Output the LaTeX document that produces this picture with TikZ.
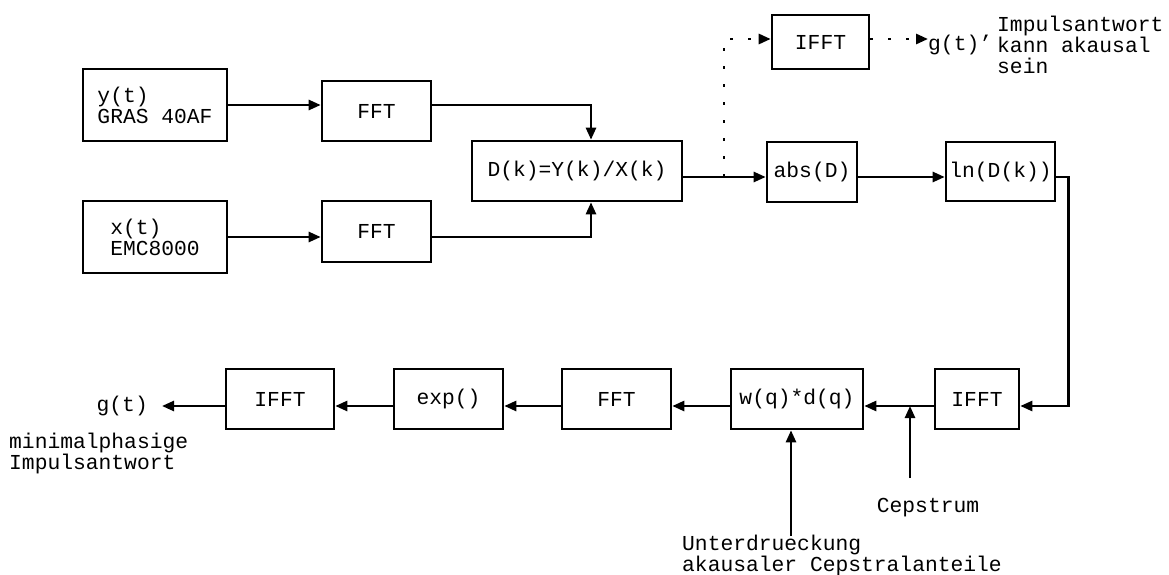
\documentclass[tikz,border=0pt]{standalone}
\usepackage{fontspec}
\setmonofont{Liberation Mono}
\usetikzlibrary{arrows.meta}
\begin{document}
\begin{tikzpicture}[x=1pt,y=-1pt,
  every node/.style={font=\ttfamily\fontsize{21.3}{21}\selectfont},
  blk/.style={draw, line width=2.6pt, inner sep=0pt, align=center},
  arr/.style={line width=2.5pt, -{Triangle[length=12pt,width=10pt]}},
  dots/.style={line width=2.7pt, dash pattern=on 3pt off 15pt, -{Triangle[length=12pt,width=10pt]}},
  lbl/.style={inner sep=0pt, align=left}]
\useasboundingbox (0,0) rectangle (1169,575);

% top part
\node[blk, minimum width=144pt, minimum height=72pt, align=left] (ybox) at (155,105) {y(t)\\GRAS 40AF};
\node[blk, minimum width=144pt, minimum height=72pt, align=left] (xbox) at (155,237) {x(t)\\EMC8000};
\node[blk, minimum width=109pt, minimum height=60pt] (fft1) at (376.5,111) {FFT};
\node[blk, minimum width=109pt, minimum height=61pt] (fft2) at (376.5,231.5) {FFT};
\node[blk, minimum width=210pt, minimum height=60pt] (D) at (577,171) {D(k)=Y(k)/X(k)};
\node[blk, minimum width=90pt, minimum height=60pt] (abs) at (812,172) {abs(D)};
\node[blk, minimum width=109pt, minimum height=59pt] (lnk) at (1000.5,171.5) {ln(D(k))};
\node[blk, minimum width=97pt, minimum height=54pt] (ifftA) at (820.5,42) {IFFT};

% bottom row
\node[blk, minimum width=84pt, minimum height=60pt] (ifftB) at (977,399) {IFFT};
\node[blk, minimum width=132pt, minimum height=60pt] (wq) at (797,399) {w(q)*d(q)};
\node[blk, minimum width=109pt, minimum height=60pt] (fftC) at (616.5,399) {FFT};
\node[blk, minimum width=109pt, minimum height=60pt] (expn) at (448.5,399) {exp()};
\node[blk, minimum width=108pt, minimum height=60pt] (ifftD) at (280,399) {IFFT};

% labels
\node[lbl, anchor=east] (gt) at (148,406) {g(t)};
\node[lbl, anchor=west] (minph) at (9,453) {minimalphasige\\Impulsantwort};
\node[lbl, anchor=west] (gtp) at (928,45) {g(t)’};
\node[lbl, anchor=west] (imp) at (997,45) {Impulsantwort\\kann akausal\\sein};
\node[lbl] (cep) at (928,508) {Cepstrum};
\node[lbl, anchor=west] (unt) at (682,555) {Unterdrueckung\\akausaler Cepstralanteile};

% helper coordinates
\coordinate (br) at (724,177);
\coordinate (tp) at (724,39);
\coordinate (cj) at (910,406);
\coordinate (cepin) at (910,478);
\coordinate (uin) at (791,536);

% connectors
\draw[arr] (ybox.east) -- (ybox.east -| fft1.west);
\draw[arr] (xbox.east) -- (xbox.east -| fft2.west);
\draw[arr] (fft1.east |- ybox.east) -| ([xshift=14pt]D.north);
\draw[arr] (fft2.east |- xbox.east) -| ([xshift=14pt]D.south);
\draw[arr] (D.east |- br) -- (abs.west |- br);
\draw[arr] (abs.east |- br) -- (lnk.west |- br);
\draw[arr] (lnk.east |- br) -- ++(12,0) |- (ifftB.east |- cj);
\draw[arr] (ifftB.west |- cj) -- (wq.east |- cj);
\draw[arr] (wq.west |- cj) -- (fftC.east |- cj);
\draw[arr] (fftC.west |- cj) -- (expn.east |- cj);
\draw[arr] (expn.west |- cj) -- (ifftD.east |- cj);
\draw[arr] (ifftD.west |- cj) -- ([xshift=14pt]gt.east);
\draw[arr] (cepin) -- (cj);
\draw[arr] (uin) -- (uin |- wq.south);
\draw[dots] (br) -- (tp) -- (ifftA.west |- tp);
\draw[dots] (ifftA.east |- tp) -- (gtp.west |- tp);
\end{tikzpicture}
\end{document}
